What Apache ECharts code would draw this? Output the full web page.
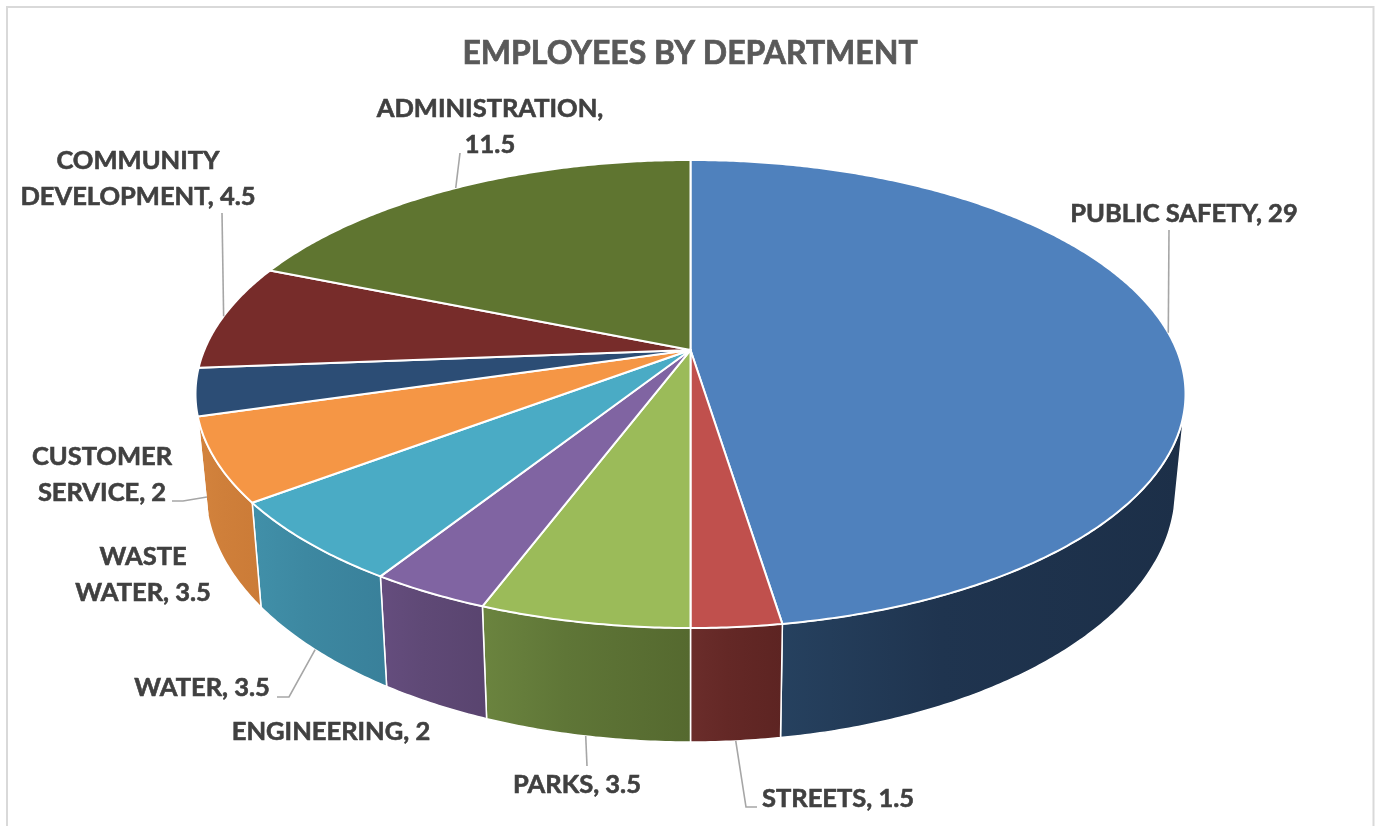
<!DOCTYPE html>
<html>
<head>
<meta charset="utf-8">
<style>html,body{margin:0;padding:0;background:#fff}#chart{width:1380px;height:826px}</style>
<script src="https://cdn.jsdelivr.net/npm/echarts@6/dist/echarts.min.js"></script>
</head>
<body>
<div id="chart"></div>
<script>
// Employee head counts per department, clockwise from twelve o'clock.
const departments = ['PUBLIC SAFETY', 'STREETS', 'PARKS', 'ENGINEERING', 'WATER', 'WASTE WATER', 'CUSTOMER SERVICE', 'COMMUNITY DEVELOPMENT', 'ADMINISTRATION'];
const employees = [29, 1.5, 3.5, 2, 3.5, 3.5, 2, 4.5, 11.5];

const topColors = ['#4f81bd', '#c0504d', '#9bbb59', '#8064a2', '#4aabc5', '#f59645', '#2c4d75', '#772c2a', '#5f7530'];
const wallLeftColors = ['#26415f', '#6b2d2b', '#6b843f', '#654d7e', '#4190a9', '#d3833d', '#2c4d75', '#772c2a', '#5f7530'];
const wallMidColors = ['#1f344f', '#642826', '#5f7637', '#5f4976', '#3d88a1', '#cf7f3a', '#2c4d75', '#772c2a', '#5f7530'];
const wallRightColors = ['#1c2f48', '#5d2422', '#55692f', '#59446f', '#39809a', '#cb7b37', '#2c4d75', '#772c2a', '#5f7530'];

// Label placement: text centre, line breaks, and the leader line's route away from the rim.
const labelLayout = [
  { cx: 1184, cy: 214, lines: ['PUBLIC SAFETY, 29'], rim: 'top', route: [[1169, 230]] },
  { cx: 838, cy: 799, lines: ['STREETS, 1.5'], rim: 'bottom', route: [[746, 807], [757, 807]] },
  { cx: 577, cy: 785, lines: ['PARKS, 3.5'], rim: 'bottom', route: [[587, 766]] },
  { cx: 331, cy: 732, lines: ['ENGINEERING, 2'] },
  { cx: 202, cy: 688, lines: ['WATER, 3.5'], rim: 'bottom', route: [[289, 697], [277, 697]] },
  { cx: 143, cy: 575, lines: ['WASTE', 'WATER, 3.5'] },
  { cx: 102, cy: 475, lines: ['CUSTOMER', 'SERVICE, 2'], route: [[207, 497], [183, 501], [172, 501]] },
  { cx: 138, cy: 179, lines: ['COMMUNITY', 'DEVELOPMENT, 4.5'], rim: 'top', route: [[222, 213]] },
  { cx: 490, cy: 127, lines: ['ADMINISTRATION,', '11.5'], rim: 'top', route: [[460, 153]] }
];

// Pie projection: the two rims are ellipses; a perspective shift moves the disc's centre up.
const upperRim = { cx: 690.5, cy: 394, rx: 495, ry: 234 };
const lowerRim = { cx: 690.5, cy: 490, rx: 485, ry: 252 };
const perspective = 0.188;
// Angular range of the side wall that faces the viewer.
const wallFrom = 105;
const wallTo = 253.8;

const total = employees.reduce((a, b) => a + b, 0);
const startAngle = [];
employees.reduce((sum, v, i) => { startAngle[i] = sum / total * 360; return sum + v; }, 0);
const endAngle = employees.map((v, i) => startAngle[i] + v / total * 360);

function project(rim, deg, r) {
  const t = deg * Math.PI / 180;
  const u = r * Math.sin(t);
  const v = -r * Math.cos(t);
  const k = 1 - perspective * v;
  return [
    rim.cx + rim.rx * u * Math.sqrt(1 - perspective * perspective) / k,
    rim.cy + rim.ry * (v - perspective) / k
  ];
}

function arcPoints(rim, from, to) {
  const steps = Math.max(2, Math.ceil((to - from) / 0.5));
  const pts = [];
  for (let i = 0; i <= steps; i++) pts.push(project(rim, from + (to - from) * i / steps, 1));
  return pts;
}

function renderWall(params, api) {
  const i = params.dataIndex;
  const from = Math.max(startAngle[i], wallFrom);
  const to = Math.min(endAngle[i], wallTo);
  if (to <= from) return null;
  const top = arcPoints(upperRim, from, to);
  const bottom = arcPoints(lowerRim, from, to).reverse();
  return {
    type: 'polygon',
    shape: { points: top.concat(bottom) },
    style: {
      // The rim runs right to left here, so the shading is laid out along screen x.
      fill: {
        type: 'linear', x: 0, y: 0, x2: 1, y2: 0,
        colorStops: [
          { offset: 0, color: wallLeftColors[i] },
          { offset: 0.4, color: wallMidColors[i] },
          { offset: 1, color: wallRightColors[i] }
        ]
      },
      stroke: '#ffffff', lineWidth: 1.5, lineJoin: 'round'
    }
  };
}

function renderTop(params, api) {
  const i = params.dataIndex;
  return {
    type: 'polygon',
    shape: { points: [project(upperRim, 0, 0)].concat(arcPoints(upperRim, startAngle[i], endAngle[i])) },
    style: { fill: topColors[i], stroke: '#ffffff', lineWidth: 2, lineJoin: 'round' }
  };
}

function renderLabel(params, api) {
  const i = params.dataIndex;
  const layout = labelLayout[i];
  const children = [{
    type: 'text',
    style: {
      text: layout.lines.join('\n'),
      x: layout.cx, y: layout.cy,
      align: 'center', verticalAlign: 'middle',
      font: 'bold 25.5px Lato', lineHeight: 36,
      fill: '#404040',
      stroke: '#404040', lineWidth: 0.6
    }
  }];
  if (layout.route) {
    const start = layout.rim
      ? [project(layout.rim === 'top' ? upperRim : lowerRim, (startAngle[i] + endAngle[i]) / 2, 1)]
      : [];
    children.push({
      type: 'polyline',
      shape: { points: start.concat(layout.route) },
      style: { fill: 'none', stroke: '#a6a6a6', lineWidth: 1.6 }
    });
  }
  return { type: 'group', children };
}

const chart = echarts.init(document.getElementById('chart'), null, { renderer: 'canvas' });
const rows = employees.map((v, i) => ({ name: departments[i], value: v }));
chart.setOption({
  animation: false,
  backgroundColor: '#ffffff',
  title: {
    text: 'EMPLOYEES BY DEPARTMENT',
    left: 685, top: 49, textAlign: 'center', textVerticalAlign: 'middle',
    textStyle: {
      fontFamily: 'Lato', fontWeight: 'bold', fontSize: 32, color: '#595959',
      textBorderColor: '#595959', textBorderWidth: 0.7
    }
  },
  graphic: [{
    type: 'rect', silent: true,
    shape: { x: 7, y: 7, width: 1366.5, height: 860 },
    style: { fill: 'none', stroke: '#d9d9d9', lineWidth: 2 }
  }],
  series: [
    { type: 'custom', coordinateSystem: 'none', renderItem: renderWall, data: rows, z: 2, silent: true },
    { type: 'custom', coordinateSystem: 'none', renderItem: renderTop, data: rows, z: 3, silent: true },
    { type: 'custom', coordinateSystem: 'none', renderItem: renderLabel, data: rows, z: 4, silent: true }
  ]
});
</script>
</body>
</html>
